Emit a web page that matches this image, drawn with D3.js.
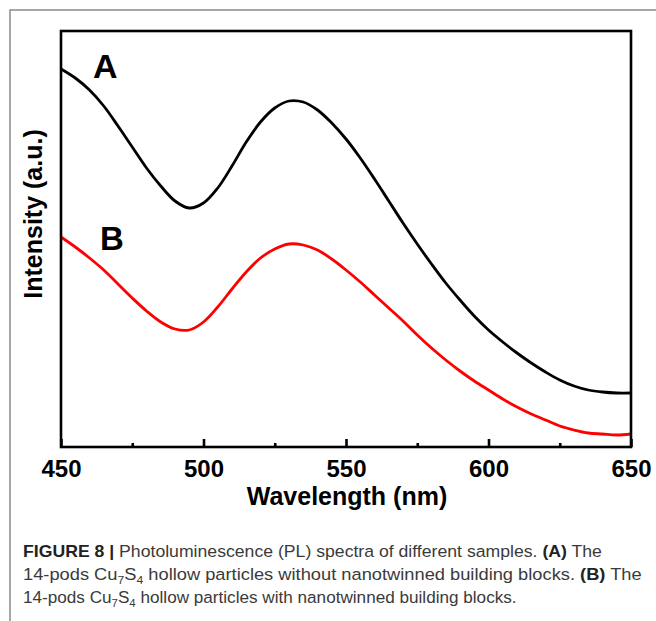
<!DOCTYPE html>
<html>
<head>
<meta charset="utf-8">
<script src="https://cdn.jsdelivr.net/npm/d3@7"></script>
<style>
  html, body { margin: 0; padding: 0; background: #fff; }
  svg { display: block; }
</style>
</head>
<body>
<svg id="chart" width="656" height="621"></svg>
<script>
// ---- data ----
const wavelengths = [450,455,460,465,470,475,480,485,490,495,500,505,510,515,520,525,530,535,540,545,550,
                     555,560,565,570,575,580,585,590,595,600,605,610,615,620,625,630,635,640,645,650];
const seriesA = [378,369,357,341,321,300,279,261,246,239,244,259,281,305,325,339,346,345,337,324,308,
                 289,268,246,224,203,183,164,147,131,117,105,94,84,75,67,61,57,55,54,54];
const seriesB = [210,200,189,177,163,149,136,125,118,117,125,140,158,175,189,198,203,202,197,188,177,
                 165,152,139,126,112,99,87,76,66,57,48,40,33,27,21,17,14,13,12,13];
const xTicks = [450,500,550,600,650];
const xMinorTicks = [475,525,575,625];
const seriesLabels = ["A","B"];
const seriesColors = ["#000000","#ff0000"];
const xTitle = "Wavelength (nm)";
const yTitle = "Intensity (a.u.)";

const svg = d3.select("#chart");

// outer figure frame (left + top only visible)
svg.append("path")
  .attr("d", "M10,621 L10,10 L656,10")
  .attr("fill","none").attr("stroke","#8a8a8a").attr("stroke-width",1.5);

const L = 61, R = 631, T = 31, B = 447;
const x = d3.scaleLinear().domain([450,650]).range([L,R]);
const y = d3.scaleLinear().domain([0,416]).range([B,T]);

const line = d3.line().x((d,i)=>x(wavelengths[i])).y(d=>y(d)).curve(d3.curveCatmullRom.alpha(0.5));

const g = svg.append("g");
[seriesA, seriesB].forEach((s,k)=>{
  g.append("path").datum(s).attr("d", line)
    .attr("fill","none").attr("stroke",seriesColors[k]).attr("stroke-width",2.8)
    .attr("stroke-linejoin","round");
});

// frame
svg.append("rect").attr("x",L).attr("y",T).attr("width",R-L).attr("height",B-T)
  .attr("fill","none").attr("stroke","#000").attr("stroke-width",2.6);

// bottom axis with inward ticks
const ax = svg.append("g").attr("transform",`translate(0,${B})`)
  .call(d3.axisBottom(x).tickValues(xTicks).tickSizeInner(-8).tickSizeOuter(0).tickPadding(13));
ax.select(".domain").remove();
ax.selectAll(".tick line").attr("stroke","#000").attr("stroke-width",2.6);
ax.selectAll(".tick text").attr("fill","#000")
  .style("font-family","'Liberation Sans', Arial, sans-serif").style("font-weight","bold").style("font-size","24px");
const axm = svg.append("g").attr("transform",`translate(0,${B})`)
  .call(d3.axisBottom(x).tickValues(xMinorTicks).tickSizeInner(-4).tickSizeOuter(0).tickFormat(""));
axm.select(".domain").remove();
axm.selectAll(".tick line").attr("stroke","#000").attr("stroke-width",2.6);

// titles
svg.append("text").attr("x",347).attr("y",505).attr("text-anchor","middle")
  .style("font-family","'Liberation Sans', Arial, sans-serif").style("font-weight","bold").style("font-size","25px")
  .text(xTitle);
svg.append("text").attr("transform","translate(42,214) rotate(-90)").attr("text-anchor","middle")
  .style("font-family","'Liberation Sans', Arial, sans-serif").style("font-weight","bold").style("font-size","25px")
  .text(yTitle);

// series labels
svg.append("text").attr("x",93).attr("y",78).text(seriesLabels[0])
  .style("font-family","'Liberation Sans', Arial, sans-serif").style("font-weight","bold").style("font-size","34px");
svg.append("text").attr("x",100).attr("y",250).text(seriesLabels[1])
  .style("font-family","'Liberation Sans', Arial, sans-serif").style("font-weight","bold").style("font-size","33px");

// caption
const capLines = [
  {y:557, w:579, parts:[["FIGURE 8 | ","b"],["Photoluminescence (PL) spectra of different samples. ","r"],["(A)","b"],[" The","r"]]},
  {y:580, w:619, parts:[["14-pods Cu","r"],["7","s"],["S","r"],["4","s"],[" hollow particles without nanotwinned building blocks. ","r"],["(B)","b"],[" The","r"]]},
  {y:603, w:494, parts:[["14-pods Cu","r"],["7","s"],["S","r"],["4","s"],[" hollow particles with nanotwinned building blocks.","r"]]}
];
capLines.forEach(cl=>{
  const t = svg.append("text").attr("x",0).attr("y",0)
    .style("font-family","'Liberation Sans', Arial, sans-serif").style("font-size","16.5px").attr("fill","#3a3a3a");
  let sub = false;
  cl.parts.forEach(([txt,kind])=>{
    const ts = t.append("tspan").text(txt);
    if (kind==="b") ts.style("font-weight","bold").attr("fill","#222");
    if (kind==="s") { ts.style("font-size","11px").attr("dy", sub?0:4); sub = true; }
    else if (sub) { ts.attr("dy",-4); sub = false; }
  });
  const len = t.node().getComputedTextLength();
  t.attr("transform",`translate(23,${cl.y}) scale(${cl.w/len},1)`);
});
</script>
</body>
</html>
